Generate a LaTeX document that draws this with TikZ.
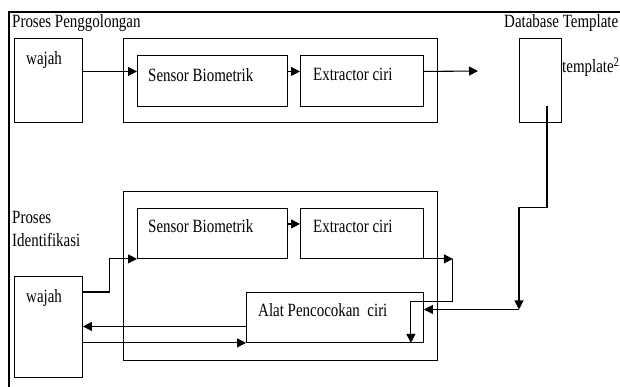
\documentclass[tikz,border=0pt]{standalone}
\usepackage{fontspec}
\setmainfont[FakeStretch=0.8]{Liberation Serif}
\usetikzlibrary{arrows.meta,calc}
\begin{document}
\begin{tikzpicture}[x=1pt,y=-1pt,
  box/.style={draw, line width=0.9pt, inner sep=0pt, anchor=north west},
  lbl/.style={anchor=base west, inner sep=0pt, font=\fontsize{18.7}{22}\selectfont},
  conn/.style={line width=1.1pt},
  arr/.style={line width=1.1pt, -{Triangle[length=9pt,width=9pt]}}]
\useasboundingbox (0,0) rectangle (620,387);
% frame
\draw[line width=1.8pt] (9,387) -- (9,12) -- (620,12);
% top section
\node[box, minimum width=68pt, minimum height=84pt] (w1) at (14,38) {};
\node[box, minimum width=314pt, minimum height=84pt] (c1) at (123,38) {};
\node[box, minimum width=150pt, minimum height=51pt] (s1) at (137,55) {};
\node[box, minimum width=123pt, minimum height=51pt] (e1) at (300,55) {};
\node[box, minimum width=42pt, minimum height=84pt] (db) at (519,38) {};
\node[lbl] (t1) at (12,28) {Proses Penggolongan};
\node[lbl] (t2) at (26,65) {wajah};
\node[lbl] (t3) at (148,82) {Sensor Biometrik};
\node[lbl] (t4) at (313,81) {Extractor ciri};
\node[lbl] (t5) at (504,28) {Database Template};
\node[lbl] (t6) at (562,73) {template\textsuperscript{2}};
\coordinate (a1) at ([yshift=9.5pt]s1.west);
\coordinate (a2) at ([yshift=9.5pt]e1.west);
\coordinate (a3) at ([yshift=9.5pt]e1.east);
\coordinate (out1) at (478,71);
\draw[arr] (w1.east |- a1) -- (a1);
\draw[arr] (s1.east |- a2) -- (a2);
\draw[arr] (a3) -- (out1);
% bottom section
\node[box, minimum width=314pt, minimum height=169pt] (c2) at (123,191) {};
\node[box, minimum width=150pt, minimum height=50pt] (s2) at (137,208) {};
\node[box, minimum width=123pt, minimum height=50pt] (e2) at (300,208) {};
\node[box, minimum width=68pt, minimum height=101pt] (w2) at (14,276) {};
\node[box, minimum width=177pt, minimum height=50pt] (al) at (246,292) {};
\node[lbl] (t7) at (12,223) {Proses};
\node[lbl] (t8) at (12,246) {Identifikasi};
\node[lbl] (t9) at (148,232) {Sensor Biometrik};
\node[lbl] (t10) at (313,232) {Extractor ciri};
\node[lbl] (t11) at (26,302) {wajah};
\node[lbl] (t12) at (258,316) {Alat Pencocokan\ \ ciri};
% bottom connectors
\coordinate (b1) at ([yshift=-16pt]w2.north east);
\draw[arr] (b1) -- ++(27,0) |- (s2.south west);
\coordinate (b2) at ([yshift=9.5pt]e2.west);
\draw[arr] (s2.east |- b2) -- (b2);
\coordinate (k1) at ([xshift=29pt]e2.south east);
\draw[arr] (e2.south east) -- (k1);
\draw[arr] (k1) -- ++(0,43) -| ([xshift=-13pt]al.south east);
\coordinate (b3) at ([yshift=-9pt]al.west);
\draw[arr] (b3) -- (w2.east |- b3);
\draw[arr] (w2.east |- al.south west) -- (al.south west);
% database connector
\coordinate (d0) at ([shift={(28pt,17pt)}]db.south west);
\coordinate (a5) at ([yshift=8pt]al.east);
\coordinate (d3) at (db.south west |- a5);
\draw[arr] (d0) -- ++(0,102) -| (d3);
\draw[arr] (d3) -- (a5);
\end{tikzpicture}
\end{document}
